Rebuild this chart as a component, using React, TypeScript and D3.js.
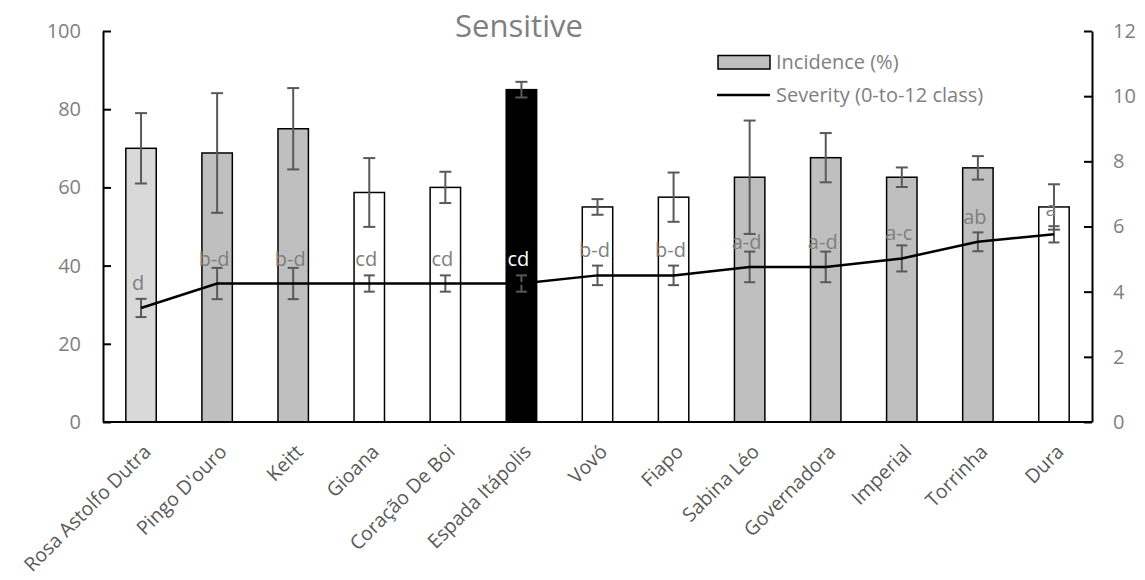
import React, { useEffect, useRef } from "react";
import * as d3 from "d3";

// chart data
const categories = [
  "Rosa Astolfo Dutra", "Pingo D'ouro", "Keitt", "Gioana", "Coração De Boi",
  "Espada  Itápolis", "Vovó", "Fiapo", "Sabina Léo", "Governadora",
  "Imperial", "Torrinha", "Dura",
];
const incidence = [70, 68.8, 75, 58.7, 60, 85, 55, 57.5, 62.6, 67.6, 62.6, 65, 55];
const incidenceErr = [9, 15.3, 10.4, 8.8, 4, 2, 2, 6.3, 14.5, 6.3, 2.5, 3, 5.8];
const severity = [3.5, 4.25, 4.25, 4.25, 4.25, 4.25, 4.5, 4.5, 4.76, 4.76, 5.02, 5.53, 5.76];
const severityErr = [0.28, 0.48, 0.48, 0.25, 0.25, 0.25, 0.3, 0.3, 0.47, 0.47, 0.4, 0.29, 0.25];
const letters = ["d", "b-d", "b-d", "cd", "cd", "cd", "b-d", "b-d", "a-d", "a-d", "a-c", "ab", "a"];
const barGroup = ["light", "mid", "mid", "none", "none", "dark", "none", "none", "mid", "mid", "mid", "mid", "none"];
const leftTicks = [0, 20, 40, 60, 80, 100];
const rightTicks = [0, 2, 4, 6, 8, 10, 12];

const groupFill: Record<string, string> = { light: "#d9d9d9", mid: "#bfbfbf", none: "#ffffff", dark: "#000000" };
const FONT = "'Open Sans', sans-serif";
const GREY = "#7f7f7f";
const ERR = "#595959";

export default function App() {
  const ref = useRef<SVGSVGElement | null>(null);

  useEffect(() => {
    const svg = d3.select(ref.current);
    svg.selectAll("*").remove();

    const left = 103, right = 1092, top = 31, bottom = 422;

    const x = d3.scaleBand<string>().domain(categories).range([left, right]).paddingInner(0.6).paddingOuter(0.3);
    const yL = d3.scaleLinear().domain([0, 100]).range([bottom, top]);
    const yR = d3.scaleLinear().domain([0, 12]).range([bottom, top]);
    const cx = (i: number) => (x(categories[i]) as number) + x.bandwidth() / 2;

    const rows = categories.map((c, i) => ({ c, i }));

    // bars
    svg.append("g").selectAll("rect").data(rows).join("rect")
      .attr("x", d => x(d.c) as number)
      .attr("y", d => yL(incidence[d.i]))
      .attr("width", x.bandwidth())
      .attr("height", d => bottom - yL(incidence[d.i]))
      .attr("fill", d => groupFill[barGroup[d.i]])
      .attr("stroke", "#000").attr("stroke-width", 1.5);

    // error bars helper
    const errBars = (vals: number[], errs: number[], y: d3.ScaleLinear<number, number>, cap: number) => {
      const g = svg.append("g").attr("stroke", ERR).attr("stroke-width", 2).attr("fill", "none");
      rows.forEach(d => {
        const xc = cx(d.i);
        const y1 = y(vals[d.i] + errs[d.i]);
        const y2 = y(vals[d.i] - errs[d.i]);
        g.append("line").attr("x1", xc).attr("x2", xc).attr("y1", y1).attr("y2", y2);
        g.append("line").attr("x1", xc - cap).attr("x2", xc + cap).attr("y1", y1).attr("y2", y1);
        g.append("line").attr("x1", xc - cap).attr("x2", xc + cap).attr("y1", y2).attr("y2", y2);
      });
    };
    errBars(incidence, incidenceErr, yL, 6);
    errBars(severity, severityErr, yR, 5.5);

    // severity line
    const line = d3.line<number>()
      .x((_, i) => cx(i))
      .y(d => yR(d));
    svg.append("path").datum(severity)
      .attr("d", line).attr("fill", "none")
      .attr("stroke", "#000").attr("stroke-width", 2.5);

    // significance letters
    svg.append("g").selectAll("text").data(rows).join("text")
      .attr("x", d => cx(d.i) - 3)
      .attr("y", d => yR(severity[d.i]) - 18)
      .attr("text-anchor", "middle")
      .attr("font-family", FONT).attr("font-size", 20)
      .attr("fill", d => (barGroup[d.i] === "dark" ? "#fff" : GREY))
      .text(d => letters[d.i]);

    // axes
    const styleAxis = (g: d3.Selection<SVGGElement, unknown, null, undefined>) => {
      g.select(".domain").attr("stroke", "#000").attr("stroke-width", 2);
      g.selectAll(".tick line").attr("stroke", "#000").attr("stroke-width", 2);
      g.selectAll(".tick text").attr("fill", GREY).attr("font-family", FONT).attr("font-size", 20);
    };

    const gl = svg.append("g").attr("transform", `translate(${left},0)`)
      .call(d3.axisLeft(yL).tickValues(leftTicks).tickSizeInner(-8).tickSizeOuter(0).tickPadding(22));
    styleAxis(gl);

    const gr = svg.append("g").attr("transform", `translate(${right},0)`)
      .call(d3.axisRight(yR).tickValues(rightTicks).tickSizeInner(-8).tickSizeOuter(0).tickPadding(21));
    styleAxis(gr);

    svg.append("line")
      .attr("x1", left).attr("x2", right).attr("y1", bottom).attr("y2", bottom)
      .attr("stroke", "#000").attr("stroke-width", 2);

    // category labels
    svg.append("g").selectAll("text").data(rows).join("text")
      .attr("transform", d => `translate(${cx(d.i) + 11},${bottom + 31}) rotate(-45)`)
      .attr("text-anchor", "end")
      .attr("font-family", FONT).attr("font-size", 19.5)
      .attr("fill", "#595959")
      .text(d => d.c);

    // title
    svg.append("text")
      .attr("x", 519).attr("y", 37)
      .attr("text-anchor", "middle")
      .attr("font-family", FONT).attr("font-size", 31)
      .attr("fill", GREY)
      .text("Sensitive");

    // legend
    const lg = svg.append("g");
    lg.append("rect").attr("x", 718).attr("y", 55.5).attr("width", 52).attr("height", 13.5)
      .attr("fill", "#bfbfbf").attr("stroke", "#000").attr("stroke-width", 1.5);
    lg.append("text").attr("x", 776).attr("y", 68.5)
      .attr("font-family", FONT).attr("font-size", 20).attr("fill", GREY)
      .text("Incidence (%)");
    lg.append("line").attr("x1", 717).attr("x2", 770).attr("y1", 95).attr("y2", 95)
      .attr("stroke", "#000").attr("stroke-width", 2.5);
    lg.append("text").attr("x", 776).attr("y", 102)
      .attr("font-family", FONT).attr("font-size", 20).attr("fill", GREY)
      .text("Severity (0-to-12 class)");
  }, []);

  return (
    <svg ref={ref} width={1145} height={580}
      style={{ position: "absolute", left: 0, top: 0, background: "#fff" }} />
  );
}
